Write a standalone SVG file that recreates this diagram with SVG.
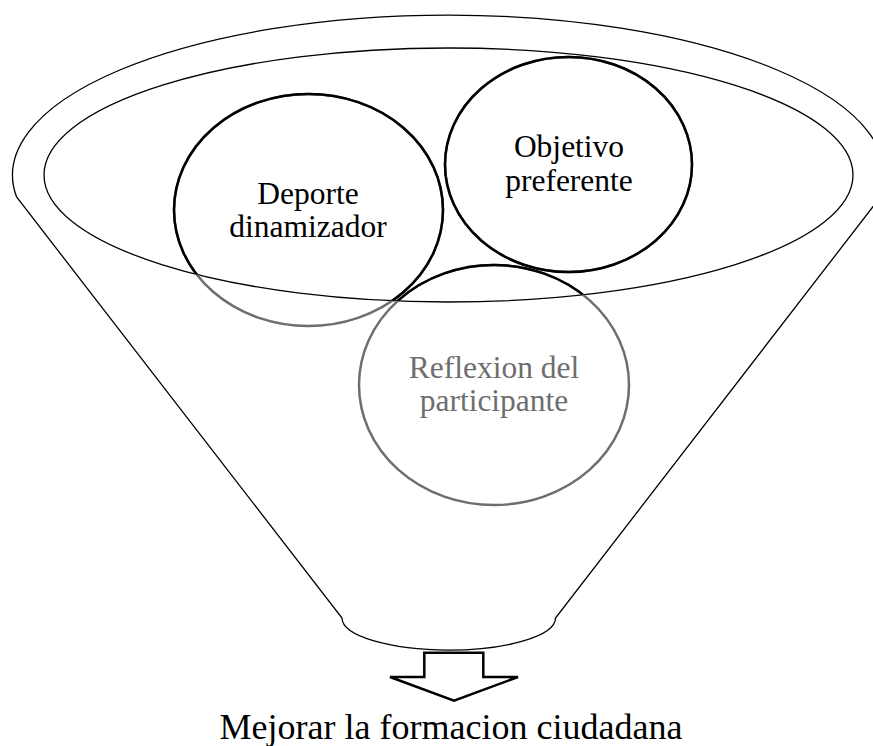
<svg xmlns="http://www.w3.org/2000/svg" width="873" height="746" viewBox="0 0 873 746">
<style>
.thin{fill:none;stroke:#000;stroke-width:1.3}
.circ{fill:none;stroke-width:2.5}
.blk{stroke:#000}
.gry{stroke:#6e6e6e}
</style>
<defs>
<clipPath id="inside"><ellipse cx="448.5" cy="175" rx="404.5" ry="127"/></clipPath>
</defs>
<rect width="873" height="746" fill="#fff"/>
<g id="funnel">
<path class="thin" d="M16.6 197 A436 160 0 1 1 880.4 197 L555.5 618 A106.5 32 0 0 1 342 618 Z"/>
<ellipse class="thin" cx="448.5" cy="175" rx="404.5" ry="127"/>
</g>
<g id="deporte" font-family="Liberation Serif, Times New Roman, serif" font-size="31.5" text-anchor="middle" fill="#000">
<ellipse class="circ gry" cx="308.5" cy="210" rx="134.5" ry="116"/>
<ellipse class="circ blk" cx="308.5" cy="210" rx="134.5" ry="116" clip-path="url(#inside)"/>
<text x="308" y="204">Deporte</text>
<text x="308" y="237">dinamizador</text>
</g>
<g id="objetivo" font-family="Liberation Serif, Times New Roman, serif" font-size="31.5" text-anchor="middle" fill="#000">
<ellipse class="circ gry" cx="568.5" cy="164.5" rx="123.5" ry="107.5"/>
<ellipse class="circ blk" cx="568.5" cy="164.5" rx="123.5" ry="107.5" clip-path="url(#inside)"/>
<text x="569" y="157">Objetivo</text>
<text x="569" y="191">preferente</text>
</g>
<g id="reflexion" font-family="Liberation Serif, Times New Roman, serif" font-size="31.5" text-anchor="middle" fill="#6e6e6e">
<ellipse class="circ gry" cx="494" cy="385" rx="135" ry="120"/>
<ellipse class="circ blk" cx="494" cy="385" rx="135" ry="120" clip-path="url(#inside)"/>
<text x="494" y="378">Reflexion del</text>
<text x="494" y="411">participante</text>
</g>
<g id="connectors">
<path d="M424.3 652.7 H483.3 V677 H518 L454 700.7 L390 677 H424.3 Z" fill="#fff" stroke="#000" stroke-width="2.5" stroke-linejoin="miter"/>
</g>
<g id="result">
<text x="451" y="739" font-family="Liberation Serif, Times New Roman, serif" font-size="36" text-anchor="middle" fill="#000">Mejorar la formacion ciudadana</text>
</g>
</svg>
